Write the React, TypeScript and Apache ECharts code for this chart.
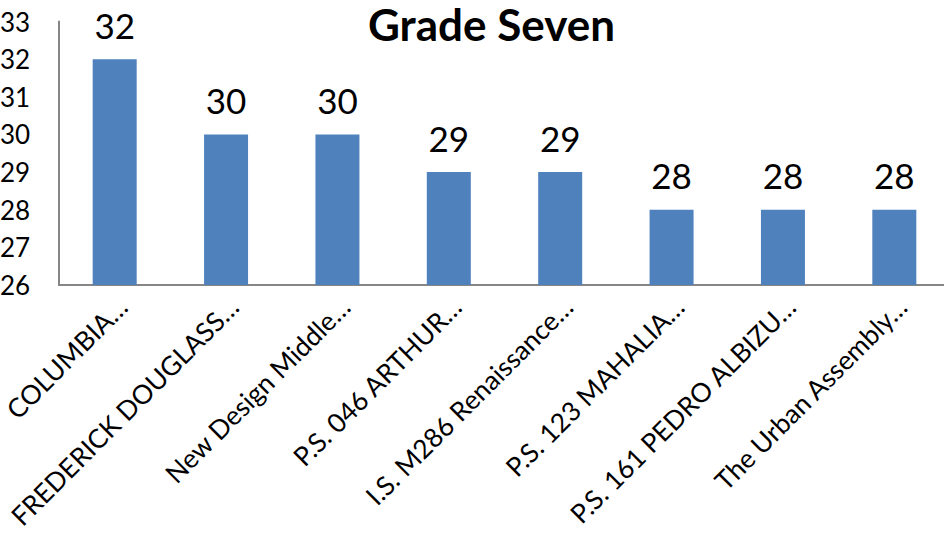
import React, { useEffect, useRef } from "react";
import * as echarts from "echarts";

const categories = [
  "COLUMBIA…",
  "FREDERICK DOUGLASS…",
  "New Design Middle…",
  "P.S. 046 ARTHUR…",
  "I.S. M286 Renaissance…",
  "P.S. 123 MAHALIA…",
  "P.S. 161 PEDRO ALBIZU…",
  "The Urban Assembly…",
];
const values = [32, 30, 30, 29, 29, 28, 28, 28];
const yMin = 26;
const yMax = 33;
const titleText = "Grade Seven";

const FONT = "Lato, 'Open Sans', sans-serif";

export default function App() {
  const ref = useRef<HTMLDivElement>(null);
  useEffect(() => {
    if (!ref.current) return;
    const chart = echarts.init(ref.current, undefined, { renderer: "svg" });
    chart.setOption({
      animation: false,
      title: {
        text: titleText,
        left: 368,
        top: 2,
        padding: 0,
        textStyle: { fontFamily: FONT, fontWeight: "bold", fontSize: 44, lineHeight: 44, color: "#000" },
      },
      grid: {
        left: 59,
        top: 21.5,
        width: 891,
        height: 263.5,
        containLabel: false,
        outerBoundsMode: "none",
      },
      xAxis: {
        type: "category",
        data: categories,
        axisLine: { show: true, lineStyle: { color: "#868686", width: 2 } },
        axisTick: { show: false },
        axisLabel: {
          rotate: 45,
          interval: 0,
          margin: 25,
          padding: [0, -11, 0, 0],
          fontFamily: FONT,
          fontSize: 26.5,
          color: "#000",
        },
      },
      yAxis: {
        type: "value",
        min: yMin,
        max: yMax,
        interval: 1,
        axisLine: { show: true, lineStyle: { color: "#868686", width: 2 } },
        axisTick: { show: false },
        splitLine: { show: false },
        axisLabel: {
          margin: 59,
          fontFamily: FONT,
          fontSize: 26,
          color: "#000",
          align: "left",
          verticalAlign: "middle",
        },
      },
      series: [
        {
          type: "bar",
          data: values,
          barWidth: 44,
          itemStyle: { color: "#4F81BD" },
          label: {
            show: true,
            position: "top",
            distance: 17,
            fontFamily: FONT,
            fontSize: 35,
            color: "#000",
          },
        },
      ],
    });
    return () => chart.dispose();
  }, []);
  return <div ref={ref} style={{ width: 944, height: 535, position: "absolute", left: 0, top: 0 }} />;
}
